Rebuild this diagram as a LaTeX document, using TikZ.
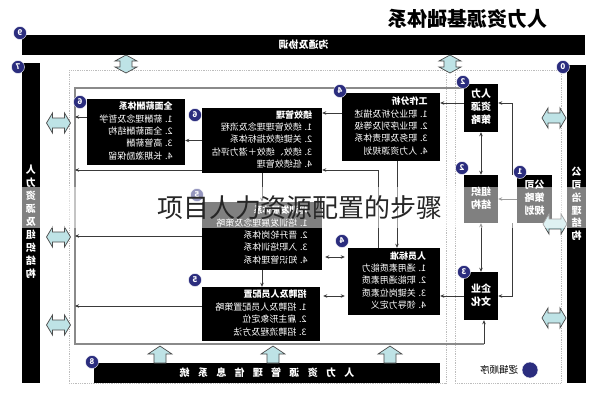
\documentclass[tikz,border=0pt]{standalone}
\usepackage{graphicx}
\usepackage{fontspec}
\setmainfont{Noto Sans CJK SC}
\usetikzlibrary{arrows.meta,calc}
\definecolor{navy}{HTML}{2B2D7E}
\definecolor{cyanf}{HTML}{BEE3E6}
\definecolor{loopgray}{HTML}{8A8A8A}
\definecolor{dotgray}{HTML}{BDBDBD}
\definecolor{conngray}{HTML}{3A3A3A}
\newcommand{\mirtext}[1]{\reflectbox{#1}}
\newcommand{\boxlines}[1]{\mirtext{\begin{tabular}{@{}l@{}}#1\end{tabular}}}
\newcommand{\boxcenter}[1]{\mirtext{\begin{tabular}{@{}c@{}}#1\end{tabular}}}
\newcommand{\hdbl}[2]{\draw[barrow] (#1,#2) ++(-12,0) -- ++(6,-10) -- ++(0,5) -- ++(12,0) -- ++(0,-5) -- ++(6,10) -- ++(-6,10) -- ++(0,-5) -- ++(-12,0) -- ++(0,5) -- cycle;}
\newcommand{\vdbl}[2]{\draw[barrow] (#1,#2) ++(0,-9) -- ++(11,6) -- ++(-5,0) -- ++(0,6) -- ++(5,0) -- ++(-11,6) -- ++(-11,-6) -- ++(5,0) -- ++(0,-6) -- ++(-5,0) -- cycle;}
\newcommand{\upblk}[1]{\draw[barrow] (#1,346) -- ++(12,8) -- ++(-6,0) -- ++(0,9) -- ++(-12,0) -- ++(0,-9) -- ++(-6,0) -- cycle;}
\begin{document}
\begin{tikzpicture}[x=1pt,y=-1pt,
  listbox/.style={fill=black,text=white,inner sep=0pt,font=\fontsize{9}{12.4}\selectfont},
  smallbox/.style={fill=black,text=white,inner sep=0pt,font=\fontsize{10}{13}\selectfont\bfseries,minimum width=34pt,minimum height=48pt},
  badge/.style={circle,fill=navy,draw=white,line width=0.4pt,text=white,inner sep=0pt,minimum size=13pt,font=\fontsize{8}{8}\selectfont\bfseries},
  conn/.style={draw=conngray,line width=0.7pt},
  arr/.style={-{Stealth[length=4pt,width=3.5pt]}},
  arrtwo/.style={{Stealth[length=4pt,width=3.5pt]}-{Stealth[length=4pt,width=3.5pt]}},
  loopline/.style={draw=loopgray,line width=1.6pt},
  dotf/.style={draw=dotgray,line width=0.8pt,densely dotted},
  barrow/.style={fill=cyanf,draw=black!70,line width=0.7pt},
  blackbar/.style={fill=black,text=white,inner sep=0pt,font=\fontsize{10}{12.9}\selectfont\bfseries},
]
\useasboundingbox (0,0) rectangle (598,400);
\fill[white] (0,0) rectangle (598,400);

% title
\node[font=\fontsize{20}{20}\selectfont\bfseries] (title) at (467,19) {\mirtext{人力资源基础体系}};

% dotted frames
\draw[dotf] (69,70) rectangle (446,383);
\draw[dotf] (455,70) rectangle (561,383);

% boxes
\node[listbox,minimum width=98pt,minimum height=66pt] (A) at (136,132)
  {\boxlines{\textbf{全面薪酬体系}\\1. 薪酬理念及哲学\\2. 全面薪酬结构\\3. 高管薪酬\\4. 长期激励保留}};
\node[listbox,minimum width=120pt,minimum height=65pt] (B) at (262,140.5)
  {\boxlines{\textbf{绩效管理}\\1. 绩效管理理念及流程\\2. 关键绩效指标体系\\3. 绩效、绩效＋潜力评估\\4. 低绩效管理}};
\node[listbox,minimum width=120pt,minimum height=68pt] (C) at (262,236)
  {\boxlines{\textbf{培训发展体系}\\1. 培训发展理念及策略\\2. 晋升轮岗体系\\3. 入职培训体系\\4. 知识管理体系}};
\node[listbox,minimum width=118pt,minimum height=54pt] (D) at (261,314)
  {\boxlines{\textbf{招聘及人员配置}\\1. 招聘及人员配置策略\\2. 雇主形象定位\\3. 招聘流程及方法}};
\node[listbox,minimum width=98pt,minimum height=68pt] (E) at (391,127)
  {\boxlines{\textbf{工作分析}\\1. 职业分析及描述\\2. 职业序列及等级\\3. 职务及职责体系\\4. 人力资源规划}};
\node[listbox,minimum width=92pt,minimum height=67pt] (F) at (394,281.5)
  {\boxlines{\textbf{人员标准}\\1. 通用素质能力\\2. 职能通用素质\\3. 关键岗位素质\\4. 领导力定义}};
\node[smallbox] (G) at (481,108) {\boxcenter{人力\\资源\\策略}};
\node[smallbox] (H) at (481,199) {\boxcenter{组织\\结构}};
\node[smallbox,minimum width=35pt] (I) at (534.5,199) {\boxcenter{公司\\策略\\规划}};
\node[smallbox] (J) at (481,296) {\boxcenter{企业\\文化}};

% feedback loop
\coordinate (gtop) at ($(G.north west)+(0,4)$);
\coordinate (railtop) at (75,88);
\coordinate (railbot) at (75,344);
\coordinate (loopend) at (484,344);
\draw[loopline] (gtop) -- (gtop -| railtop) -- (railbot) -- (loopend);
\draw[conn,arr] (loopend) -- (loopend |- J.south);

% connectors
\coordinate (ge) at ($(G.west)+(0,-5)$);
\draw[conn,arr] (ge) -- (ge -| E.east);
\coordinate (ia) at ($(I.north west)+(-4,0)$);
\coordinate (gi) at ($(G.east)+(0,-5)$);
\draw[conn,arr] (ia) |- (gi);
\draw[conn,arr] (I.west) -- (H.east);
\coordinate (ib) at ($(I.south west)+(-4,0)$);
\draw[conn,arr] (ib) |- (J.east);
\draw[conn,arrtwo] (G.south) -- (H.north);
\draw[conn,arrtwo] (H.south) -- (J.north);
\draw[conn,arr] (J.west) -- (J.west -| F.east);
\coordinate (eb) at ($(E.west)+(0,-14)$);
\draw[conn,arr] (eb) -- (eb -| B.east);
\coordinate (ef) at ($(E.south)+(6,0)$);
\draw[conn,arr] (ef) -- (ef |- F.north);
\coordinate (fb) at ($(F.north)+(-16,0)$);
\coordinate (fbc) at (378,170);
\draw[conn,arr] (fb) -- (fbc) -- (fbc -| B.east);
\coordinate (fc) at ($(F.west)+(0,-24.5)$);
\draw[conn,arrtwo,shorten <=3pt,shorten >=3pt] (fc) -- (fc -| C.east);
\coordinate (fd) at ($(F.west)+(0,14.5)$);
\draw[conn,arrtwo,shorten <=3pt,shorten >=3pt] (fd) -- (fd -| D.east);
\draw[conn,arr] (B.south) -- (C.north);
\draw[conn,arr] (C.south) -- (C.south |- D.north);
\draw[conn,arr] (B.west) -- (B.west -| A.east);
\coordinate (al) at ($(A.west)+(0,-15)$);
\draw[conn,arr] (al) -- (al -| railtop);
\coordinate (bl) at ($(B.west)+(0,29.5)$);
\draw[conn,arr] (bl) -- (bl -| railtop);
\draw[conn,arr] (C.west) -- (C.west -| railtop);
\coordinate (dl) at ($(D.west)+(0,-8)$);
\draw[conn,arr] (dl) -- (dl -| railtop);

% black bars
\node[blackbar,minimum width=563pt,minimum height=20pt] (topbar) at (303.5,45) {\mirtext{沟通及协调}};
\node[blackbar,minimum width=18pt,minimum height=320pt] (leftbar) at (31,223)
  {\boxcenter{人\\力\\资\\源\\及\\组\\织\\结\\构}};
\node[blackbar,minimum width=19pt,minimum height=318pt] (rightbar) at (576.5,224) {};
\node[blackbar,fill=none] (righttext) at (576.5,205) {\boxcenter{公\\司\\治\\理\\结\\构}};
\node[blackbar,minimum width=346pt,minimum height=20pt] (botbar) at (267,373)
  {\mirtext{人\hspace{8.3pt}力\hspace{8.3pt}资\hspace{8.3pt}源\hspace{8.3pt}管\hspace{8.3pt}理\hspace{8.3pt}信\hspace{8.3pt}息\hspace{8.3pt}系\hspace{8.3pt}统}};

% block arrows
\vdbl{126}{64}
\vdbl{450}{64}
\hdbl{58.5}{123}
\hdbl{58.5}{237}
\hdbl{58.5}{325}
\hdbl{554}{118}
\hdbl{555}{224}
\hdbl{554}{318}
\upblk{160}
\upblk{273}
\upblk{390}

% badges
\node[badge] (n9) at (20,33) {\mirtext{9}};
\node[badge] (n7) at (18,67) {\mirtext{7}};
\node[badge] (n0) at (563,67) {\mirtext{0}};
\node[badge] (nG) at (463,82) {\mirtext{2}};
\node[badge] (nE) at (340,91) {\mirtext{4}};
\node[badge] (nA) at (80,102) {\mirtext{6}};
\node[badge] (nB) at (195,115) {\mirtext{6}};
\node[badge] (nC) at (197,195) {\mirtext{5}};
\node[badge] (nF) at (342,241) {\mirtext{4}};
\node[badge] (nD) at (195,280) {\mirtext{5}};
\node[badge] (nH) at (462,168) {\mirtext{2}};
\node[badge] (nI) at (520,172) {\mirtext{1}};
\node[badge] (nJ) at (464,272) {\mirtext{3}};
\node[badge] (n8) at (92,362) {\mirtext{8}};

% legend
\node[badge,minimum size=16pt] (legdot) at (530,370) {};
\node[font=\fontsize{9.5}{10}\selectfont] (legtext) at (499,370) {\mirtext{逻辑顺序}};

% overlay caption
\fill[white,opacity=0.5] (0,187) rectangle (598,228);
\node[font=\fontsize{26}{26}\selectfont,text=black!85] (caption) at (300,208) {项目人力资源配置的步骤};
\end{tikzpicture}
\end{document}
